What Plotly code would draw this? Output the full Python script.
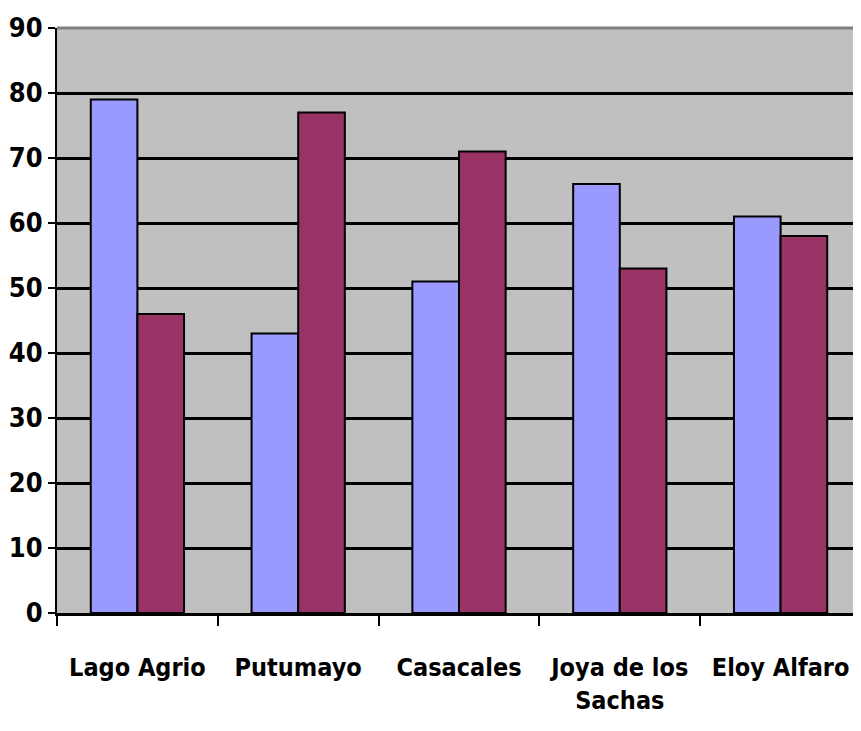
import plotly.graph_objects as go

categories = ["Lago Agrio", "Putumayo", "Casacales", "Joya de los<br>Sachas", "Eloy Alfaro"]
series_a = [79, 43, 51, 66, 61]
series_b = [46, 77, 71, 53, 58]
y_ticks = [0, 10, 20, 30, 40, 50, 60, 70, 80, 90]

FONT = "Liberation Sans Narrow, DejaVu Sans Condensed, Liberation Sans, Arial, sans-serif"

fig = go.Figure()
fig.add_trace(go.Bar(x=categories, y=series_a, marker=dict(color="#9999FF", line=dict(color="black", width=2))))
fig.add_trace(go.Bar(x=categories, y=series_b, marker=dict(color="#993366", line=dict(color="black", width=2))))

fig.update_layout(
    width=853, height=723,
    margin=dict(l=49, r=0, t=20, b=118),
    paper_bgcolor="white", plot_bgcolor="#C0C0C0",
    barmode="group", bargap=0.42, bargroupgap=0,
    showlegend=False,
    font=dict(family=FONT, size=25, color="black", weight="bold"),
)
fig.update_yaxes(
    range=[0, 90], tickvals=y_ticks, ticktext=[str(v) for v in y_ticks],
    showgrid=True, gridcolor="black", gridwidth=3,
    showline=True, linecolor="black", linewidth=2,
    ticks="outside", ticklen=7, tickwidth=2, tickcolor="black",
    zeroline=False, automargin=False,
    tickfont=dict(family=FONT, size=27, color="black", weight="bold"),
)
fig.update_xaxes(
    showline=True, linecolor="black", linewidth=3,
    ticks="outside", tickson="boundaries", ticklen=10, tickwidth=2, tickcolor="black",
    showgrid=False, automargin=False, tickangle=0,
    ticklabelstandoff=30,
    tickfont=dict(family=FONT, size=25, color="black", weight="bold"),
)
fig.add_shape(type="line", xref="paper", yref="paper", x0=0, x1=1, y0=1, y1=1,
              line=dict(color="#808080", width=3))

fig.write_html("out.html")
